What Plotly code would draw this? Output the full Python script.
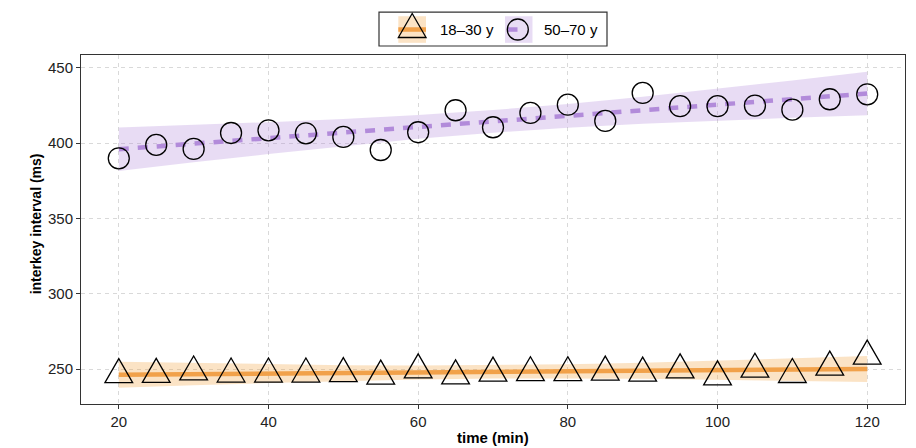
import plotly.graph_objects as go

# ---- data -------------------------------------------------------------
time_min = [20, 25, 30, 35, 40, 45, 50, 55, 60, 65, 70,
            75, 80, 85, 90, 95, 100, 105, 110, 115, 120]

young_ms = [246.3, 246.5, 248.1, 246.7, 246.7, 246.7, 247.0, 245.3, 249.5, 245.5, 247.3,
            247.6, 247.6, 248.0, 247.3, 249.5, 244.8, 249.9, 246.4, 251.3, 258.6]
old_ms = [390.0, 398.9, 396.2, 406.8, 408.6, 406.6, 404.2, 395.5, 407.3, 421.9, 410.6,
          420.1, 425.6, 414.8, 433.4, 424.6, 424.6, 425.0, 422.3, 429.2, 432.5]

# linear trend with 95% band
fit_x = [20, 30, 40, 50, 60, 70, 80, 90, 100, 110, 120]
young_fit = [246.2, 246.6, 247.0, 247.3, 247.7, 248.1, 248.5, 248.9, 249.2, 249.6, 250.0]
young_hi = [254.8, 254.0, 253.3, 252.6, 252.4, 252.6, 253.2, 254.2, 255.5, 257.0, 258.6]
young_lo = [237.6, 239.2, 240.7, 242.0, 243.0, 243.7, 243.8, 243.6, 242.9, 242.2, 241.4]
old_fit = [396.0, 399.7, 403.4, 407.1, 410.8, 414.5, 418.2, 421.9, 425.6, 429.3, 433.0]
old_hi = [410.5, 412.1, 414.0, 416.1, 418.7, 422.0, 426.1, 430.9, 436.2, 441.7, 447.5]
old_lo = [381.5, 387.3, 392.8, 398.1, 402.9, 407.0, 410.3, 412.9, 415.0, 416.9, 418.5]

group_labels = ["18\u201330 y", "50\u201370 y"]
x_ticks = [20, 40, 60, 80, 100, 120]
y_ticks = [250, 300, 350, 400, 450]

# ---- style ------------------------------------------------------------
FONT = "Helvetica, Liberation Sans, Arial, sans-serif"
ORANGE = "#f1a14a"
ORANGE_BAND = "rgba(241,163,64,0.30)"
PURPLE = "#b28bda"
PURPLE_BAND = "rgba(178,138,218,0.30)"
INK = "#222222"

W, H = 916, 448
L, R, T, B = 81, 905, 55, 404.3


def px_x(px):
    return (px - L) / (R - L)


def px_y(py):
    return (B - py) / (B - T)


# equilateral triangle outline, centroid at the anchor (pixel units, y up)
TRI_HALF_W = 13.85
TRI_PATH = f"M{-TRI_HALF_W},-8 L{TRI_HALF_W},-8 L0,16 Z"

fig = go.Figure()

# confidence bands
for xs, lo, hi, col in [(fit_x, young_lo, young_hi, ORANGE_BAND),
                        (fit_x, old_lo, old_hi, PURPLE_BAND)]:
    fig.add_trace(go.Scatter(
        x=xs + xs[::-1], y=hi + lo[::-1], fill="toself", fillcolor=col,
        mode="lines", line=dict(width=0), hoverinfo="skip", showlegend=False))

# fitted trends
fig.add_trace(go.Scatter(x=fit_x, y=young_fit, mode="lines",
                         line=dict(color=ORANGE, width=4.5), showlegend=False))
fig.add_trace(go.Scatter(x=fit_x, y=old_fit, mode="lines",
                         line=dict(color=PURPLE, width=4.5, dash="10px,9px"),
                         showlegend=False))

# older group: open circles
fig.add_trace(go.Scatter(
    x=time_min, y=old_ms, mode="markers", showlegend=False,
    marker=dict(symbol="circle-open", size=21, color="black",
                line=dict(width=1.3, color="black"))))

shapes = []
# younger group: open triangles anchored on the data axes
for xv, yv in zip(time_min, young_ms):
    shapes.append(dict(type="path", xref="x", yref="y",
                       xsizemode="pixel", ysizemode="pixel",
                       xanchor=xv, yanchor=yv, path=TRI_PATH,
                       line=dict(color="black", width=1.3),
                       fillcolor="rgba(0,0,0,0)", layer="above"))

# ---- legend box -------------------------------------------------------
shapes.append(dict(type="rect", xref="paper", yref="paper",
                   x0=px_x(379), x1=px_x(607), y0=px_y(46), y1=px_y(12),
                   line=dict(color="#333333", width=1.2), fillcolor="white",
                   layer="above"))
key_y = 29.5
# key 1
shapes.append(dict(type="rect", xref="paper", yref="paper",
                   x0=px_x(398.3), x1=px_x(426), y0=px_y(42.8), y1=px_y(16.2),
                   line=dict(width=0), fillcolor=ORANGE_BAND, layer="above"))
shapes.append(dict(type="line", xref="paper", yref="paper",
                   x0=px_x(398.3), x1=px_x(426), y0=px_y(key_y), y1=px_y(key_y),
                   line=dict(color=ORANGE, width=4.5), layer="above"))
shapes.append(dict(type="path", xref="paper", yref="paper",
                   xsizemode="pixel", ysizemode="pixel",
                   xanchor=px_x(412.2), yanchor=px_y(key_y), path=TRI_PATH,
                   line=dict(color="black", width=1.3),
                   fillcolor="rgba(0,0,0,0)", layer="above"))
# key 2
shapes.append(dict(type="rect", xref="paper", yref="paper",
                   x0=px_x(505), x1=px_x(532.5), y0=px_y(42.8), y1=px_y(16.2),
                   line=dict(width=0), fillcolor=PURPLE_BAND, layer="above"))
shapes.append(dict(type="line", xref="paper", yref="paper",
                   x0=px_x(507), x1=px_x(517.5), y0=px_y(key_y), y1=px_y(key_y),
                   line=dict(color=PURPLE, width=4.5), layer="above"))
shapes.append(dict(type="circle", xref="paper", yref="paper",
                   xsizemode="pixel", ysizemode="pixel",
                   xanchor=px_x(517.8), yanchor=px_y(key_y),
                   x0=-10.5, x1=10.5, y0=-10.5, y1=10.5,
                   line=dict(color="black", width=1.3),
                   fillcolor="rgba(0,0,0,0)", layer="above"))

annotations = [
    dict(text=group_labels[0], xref="paper", yref="paper",
         x=px_x(437.5), y=px_y(key_y), xanchor="left", yanchor="middle",
         showarrow=False, font=dict(family=FONT, size=15, color="black")),
    dict(text=group_labels[1], xref="paper", yref="paper",
         x=px_x(542), y=px_y(key_y), xanchor="left", yanchor="middle",
         showarrow=False, font=dict(family=FONT, size=15, color="black")),
    dict(text="<b>time (min)</b>", xref="paper", yref="paper",
         x=0.5, y=px_y(438), xanchor="center", yanchor="middle",
         showarrow=False, font=dict(family=FONT, size=15, color="black")),
    dict(text="<b>interkey interval (ms)</b>", xref="paper", yref="paper",
         x=px_x(35.5), y=px_y(224), xanchor="center", yanchor="middle",
         textangle=-90, showarrow=False,
         font=dict(family=FONT, size=14, color="black")),
]

axis_common = dict(
    showline=True, mirror=True, linecolor="#333333", linewidth=1,
    ticks="outside", ticklen=4, tickwidth=1, tickcolor="#333333",
    showgrid=True, gridcolor="#d9d9d9", gridwidth=1, griddash="4px,4px",
    zeroline=False, tickfont=dict(family=FONT, size=15, color=INK),
)

fig.update_layout(
    width=W, height=H,
    margin=dict(l=L, r=W - R, t=T, b=H - B, autoexpand=False),
    paper_bgcolor="white", plot_bgcolor="white",
    showlegend=False,
    xaxis=dict(range=[14.95, 125.05], tickvals=x_ticks, **axis_common),
    yaxis=dict(range=[226.8, 458.6], tickvals=y_ticks, **axis_common),
    shapes=shapes, annotations=annotations,
    font=dict(family=FONT, size=15, color=INK),
)

fig.write_html("out.html")
